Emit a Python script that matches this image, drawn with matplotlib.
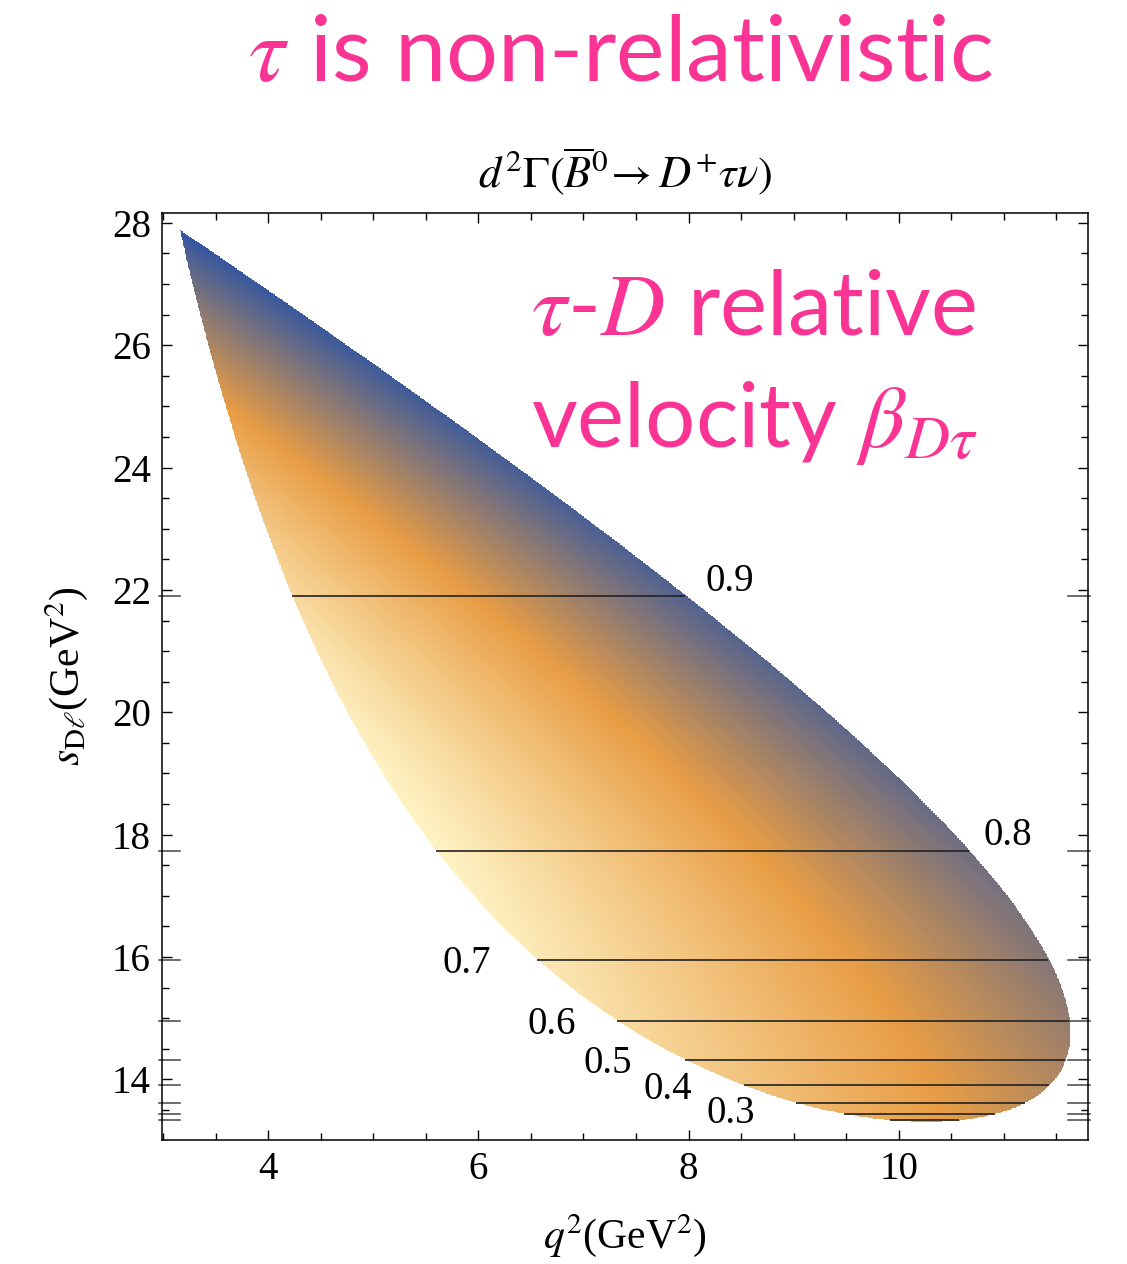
import numpy as np
import matplotlib.pyplot as plt
from matplotlib.colors import LinearSegmentedColormap
from matplotlib import transforms

plt.rcParams['mathtext.fontset'] = 'stix'

# masses in GeV
m_B = 5.27963
m_D = 1.86965
m_tau = 1.77686

# contour levels of the D-tau relative velocity
beta_levels = [0.1, 0.2, 0.3, 0.4, 0.5, 0.6, 0.7, 0.8, 0.9]
labelled_levels = [0.3, 0.4, 0.5, 0.6, 0.7, 0.8, 0.9]
# label offsets (pixels) from the end of each contour line
label_offsets = [(-64, -11), (-75, -4), (-76, -4), (-65, -4), (-70, -4), (39, 16), (44, 15)]

x_ticks = [4, 6, 8, 10]
y_ticks = [14, 16, 18, 20, 22, 24, 26, 28]

# density gradient: low -> blue, middle -> orange, high -> pale yellow
grad_stops = [0.0, 0.50, 1.0]
grad_colors = ['#3457a0', '#e89d45', '#fff3c4']

xlim = (2.99, 11.80)
ylim = (13.01, 28.16)

pink = '#f93494'


def s_limits(q2):
    rq = np.sqrt(q2)
    e_d = (m_B**2 - q2 - m_D**2) / (2 * rq)
    e_t = (q2 + m_tau**2) / (2 * rq)
    p_d = np.sqrt(np.clip(e_d**2 - m_D**2, 0, None))
    p_t = np.sqrt(np.clip(e_t**2 - m_tau**2, 0, None))
    tot = (e_d + e_t)**2
    return tot - (p_d + p_t)**2, tot - (p_d - p_t)**2


def q2_limits(s):
    rs = np.sqrt(s)
    e_t = (s - m_D**2 + m_tau**2) / (2 * rs)
    e_n = (m_B**2 - s) / (2 * rs)
    p_t = np.sqrt(np.clip(e_t**2 - m_tau**2, 0, None))
    tot = (e_t + e_n)**2
    return tot - (p_t + e_n)**2, tot - (p_t - e_n)**2


def beta_dtau(s):
    a = s - m_D**2 - m_tau**2
    return np.sqrt(np.clip(a**2 - 4 * m_D**2 * m_tau**2, 0, None)) / a


def s_of_beta(b):
    return m_D**2 + m_tau**2 + 2 * m_D * m_tau / np.sqrt(1 - b**2)


def amp_sq(q2, s):
    # vector current (p_B + p_D) contracted with the V-A lepton tensor
    P2 = 2 * m_B**2 + 2 * m_D**2 - q2
    k_tn = (q2 - m_tau**2) / 2
    P_kn = m_B**2 - s - (q2 - m_tau**2) / 2
    P_kt = m_B**2 - m_D**2 - P_kn
    return 2 * P_kt * P_kn - P2 * k_tn


q2 = np.linspace(xlim[0], xlim[1], 1400)
s = np.linspace(ylim[0], ylim[1], 1400)
Q, S = np.meshgrid(q2, s)
Qc = np.clip(Q, m_tau**2, (m_B - m_D)**2)
s_lo, s_hi = s_limits(Qc)
inside = (Q >= m_tau**2) & (Q <= (m_B - m_D)**2) & (S >= s_lo) & (S <= s_hi)

rate = np.clip(amp_sq(Qc, S), 0, None)
zmin, zmax = rate[inside].min(), rate[inside].max()
z = np.clip((rate - zmin) / (zmax - zmin), 0, 1)

cmap = LinearSegmentedColormap.from_list('dens', list(zip(grad_stops, grad_colors)))
rgba = cmap(z)
rgba[~inside, 3] = 0.0

fig = plt.figure(figsize=(11.27, 12.64), dpi=100)
ax = fig.add_axes([0.1437, 0.0981, 0.8217, 0.7334])

ax.imshow(rgba, extent=(q2[0], q2[-1], s[0], s[-1]), origin='lower',
          aspect='auto', interpolation='nearest')

beta = np.ma.masked_where(~inside, beta_dtau(S))
ax.contour(Q, S, beta, levels=beta_levels, colors='#222222', linewidths=1.2)

# contour labels beside the ends of each line
for lev, off in zip(labelled_levels, label_offsets):
    s_lev = s_of_beta(lev)
    lo, hi = q2_limits(s_lev)
    xy = (hi, s_lev) if off[0] > 0 else (lo, s_lev)
    ax.annotate(f'{lev:.1f}', xy=xy, xytext=off, textcoords='offset pixels',
                ha='center', va='center', fontsize=28, family='Liberation Serif')

# short marks on both frame edges at the contour levels
edge = transforms.blended_transform_factory(ax.transAxes, ax.transData)
for lev in beta_levels:
    s_lev = s_of_beta(lev)
    ax.plot([-0.003, 0.020], [s_lev, s_lev], transform=edge, color='#444444',
            lw=1.1, clip_on=False)
    ax.plot([0.978, 1.002], [s_lev, s_lev], transform=edge, color='#444444',
            lw=1.1, clip_on=False)

ax.set_xlim(*xlim)
ax.set_ylim(*ylim)
ax.set_xticks(x_ticks)
ax.set_yticks(y_ticks)
ax.set_xticks(np.arange(3.0, 12.0, 0.5), minor=True)
ax.set_yticks(np.arange(13.5, 28.5, 0.5), minor=True)
ax.tick_params(which='both', direction='in', top=True, right=True, width=1.0,
               labelsize=28, pad=8)
ax.tick_params(which='major', length=7.5)
ax.tick_params(which='minor', length=4.8)
for lab in ax.get_xticklabels() + ax.get_yticklabels():
    lab.set_family('Liberation Serif')
for sp in ax.spines.values():
    sp.set_linewidth(1.1)

ax.set_title(r'$d^2\Gamma(\overline{B}^0\!\rightarrow D^{+}\tau\nu)$',
             fontsize=32, pad=18)
ax.set_xlabel(r'$q^2$(GeV$^2$)', fontsize=30, family='Liberation Serif', labelpad=17)
ax.set_ylabel(r'$s_{\mathrm{D}\ell}$(GeV$^2$)', fontsize=30, family='Liberation Serif',
              labelpad=16)

fig.text(0.551, 0.956, r'$\tau$ is non-relativistic', color=pink, fontsize=66,
         family='Lato', ha='center', va='center')
ax.text(0.398, 0.868, r'$\tau$-$D$ relative', color=pink, fontsize=64,
        family='Lato', ha='left', va='baseline', transform=ax.transAxes)
ax.text(0.398, 0.748, r'velocity $\beta_{D\tau}$', color=pink, fontsize=64,
        family='Lato', ha='left', va='baseline', transform=ax.transAxes)

fig.savefig('out.png', dpi=100)
